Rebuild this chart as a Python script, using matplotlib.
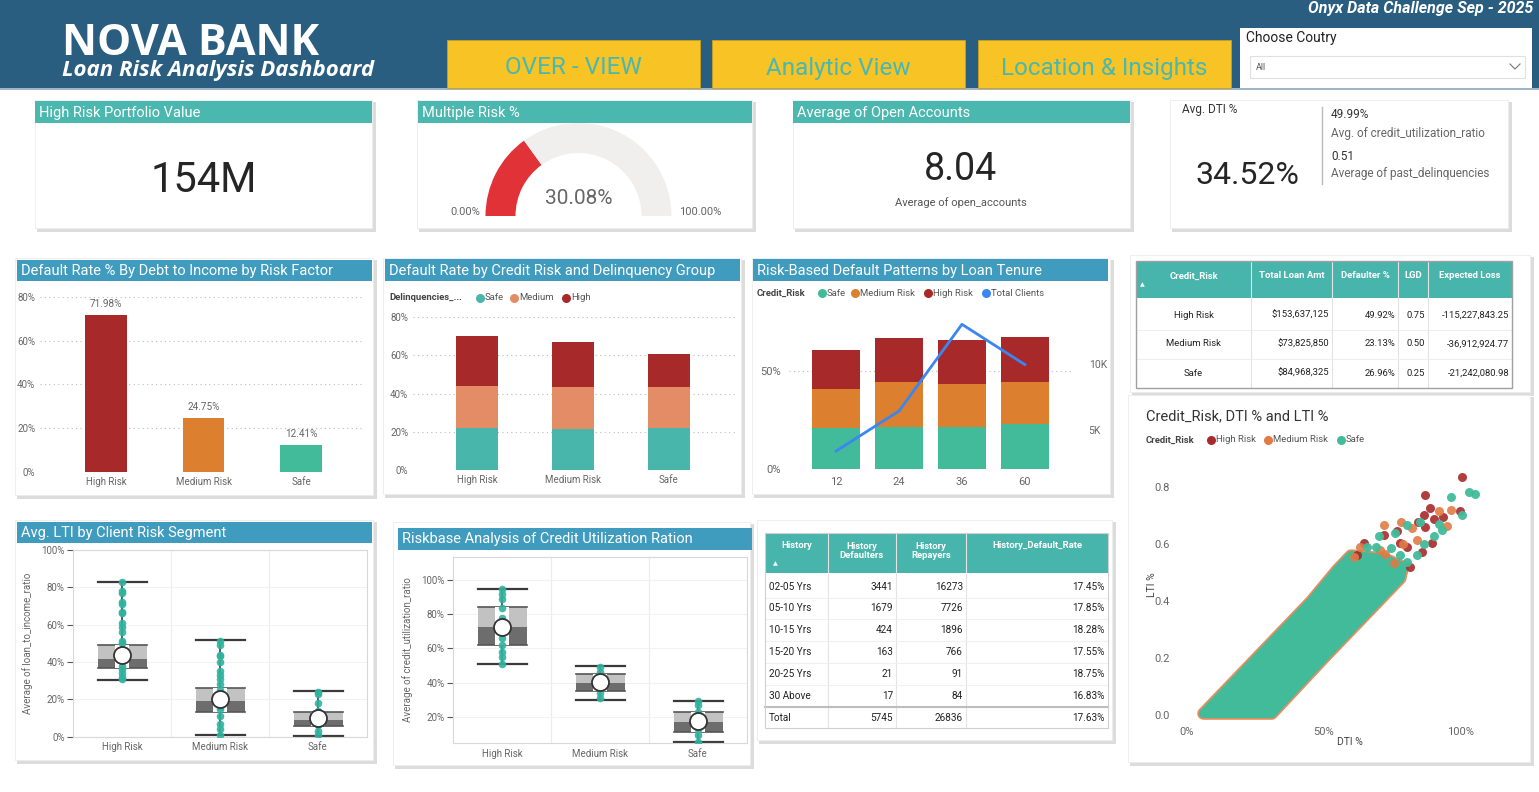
import matplotlib
matplotlib.use("Agg")
import matplotlib.pyplot as plt
from matplotlib.patches import Rectangle, Wedge, Polygon
import numpy as np

plt.rcParams['font.family'] = ['Roboto', 'DejaVu Sans']

W, H = 1539, 792

# ---------------- data ----------------
risk_cats = ["High Risk", "Medium Risk", "Safe"]
dti_default_rate = [71.98, 24.75, 12.41]

delinq_safe = [21.9, 21.4, 21.8]
delinq_medium = [22.1, 22.0, 21.6]
delinq_high = [26.3, 23.6, 17.4]

tenures = ["12", "24", "36", "60"]
tenure_safe = [20.7, 21.6, 21.6, 22.8]
tenure_medium = [19.9, 22.8, 21.9, 21.6]
tenure_high = [19.9, 22.3, 22.1, 22.8]
tenure_clients = [3370, 6415, 13010, 9945]

kpi_portfolio = "154M"
gauge_value = 30.08
kpi_open_accounts = "8.04"
kpi_dti = "34.52%"
kpi_util = "49.99%"
kpi_delinq = "0.51"

# box plots: (whisker low, q1, median, q3, whisker high, mean)
lti_box = [(30.4, 37.0, 41.6, 49.3, 83.1, 43.8),
           (0.9, 13.0, 19.1, 26.3, 51.8, 20.2),
           (0.4, 5.7, 8.9, 13.4, 24.6, 10.2)]
lti_dots = [[83, 78, 77, 72, 71, 67, 66, 61, 59, 56, 51, 50, 47, 45, 41, 38, 36, 34, 32, 31],
            [51, 49, 44, 43, 40, 35, 33, 31, 28, 25, 20, 16, 15, 11, 7, 4, 1],
            [24, 23, 18, 14, 12, 9, 6, 3, 1]]
util_box = [(51.1, 62.1, 72.4, 84.2, 94.9, 72.8),
            (30.0, 35.3, 39.8, 45.2, 49.9, 40.2),
            (5.2, 11.2, 16.9, 22.9, 29.2, 17.5)]
util_dots = [[95, 92, 89, 84, 78, 76, 69, 66, 62, 58, 55, 51],
             [49, 46, 43, 37, 34, 31],
             [29, 27, 23, 18, 13, 9, 5]]

credit_cols = ["Credit_Risk", "Total Loan Amt", "Defaulter %", "LGD", "Expected Loss"]
credit_rows = [["High Risk", "$153,637,125", "49.92%", "0.75", "-115,227,843.25"],
               ["Medium Risk", "$73,825,850", "23.13%", "0.50", "-36,912,924.77"],
               ["Safe", "$84,968,325", "26.96%", "0.25", "-21,242,080.98"]]

hist_cols = ["History", "History\nDefaulters", "History\nRepayers", "History_Default_Rate"]
hist_rows = [["02-05 Yrs", "3441", "16273", "17.45%"],
             ["05-10 Yrs", "1679", "7726", "17.85%"],
             ["10-15 Yrs", "424", "1896", "18.28%"],
             ["15-20 Yrs", "163", "766", "17.55%"],
             ["20-25 Yrs", "21", "91", "18.75%"],
             ["30 Above", "17", "84", "16.83%"]]
hist_total = ["Total", "5745", "26836", "17.63%"]

# scatter: dense band outline (DTI %, LTI) and outlier points
band_dti = [6.0, 31.0, 50, 70, 78, 79, 72, 60, 55, 45.5, 25.5, 6.0]
band_lti = [0.005, 0.005, 0.2, 0.4, 0.48, 0.52, 0.55, 0.56, 0.51, 0.4, 0.2, 0.005]
hi_dti = [100.6, 87.2, 88.8, 100, 93.7, 86.6, 84.4, 72, 76.8, 78, 80.5, 87.2, 89.6, 85.9, 62.2, 64.6, 81.7, 90.5]
hi_lti = [0.835, 0.774, 0.726, 0.717, 0.694, 0.702, 0.679, 0.632, 0.646, 0.603, 0.591, 0.661, 0.603, 0.574, 0.562, 0.603, 0.521, 0.69]
md_dti = [96.6, 92.1, 95.1, 78.3, 72.2, 82.3, 63.4, 72.6, 75.6, 84.1, 61.0, 79.0, 70.5]
md_lti = [0.72, 0.717, 0.664, 0.677, 0.667, 0.656, 0.591, 0.565, 0.533, 0.615, 0.556, 0.60, 0.58]
sf_dti = [103.3, 105.5, 96.6, 100.5, 80.5, 85.1, 92.1, 93.3, 90.5, 70.1, 76.2, 86.6, 84.1, 65.9, 69.0, 74.5, 78.0, 80.5, 58.5]
sf_lti = [0.782, 0.775, 0.764, 0.703, 0.668, 0.679, 0.671, 0.648, 0.629, 0.629, 0.638, 0.601, 0.562, 0.591, 0.59, 0.585, 0.562, 0.539, 0.51]

# ---------------- colours ----------------
C_HEAD = "#2a5e80"
C_YEL = "#f7c325"
C_TEAL_TXT = "#49b8b1"
C_TEAL_BAR = "#4ab8ae"
C_BLUE_BAR = "#3f9cbf"
C_HIGH = "#a8292a"
C_MED = "#dc7f2e"
C_SAFE = "#41bb9a"
C_SAFE2 = "#48b6ab"
C_MED2 = "#e38c65"
GRAY_TXT = "#666666"

fig = plt.figure(figsize=(W / 100, H / 100), dpi=100)
fig.patch.set_facecolor("white")

bg = fig.add_axes([0, 0, 1, 1])
bg.set_xlim(0, W)
bg.set_ylim(H, 0)
bg.axis("off")


def px_axes(x0, y0, x1, y1):
    ax = fig.add_axes([x0 / W, 1 - y1 / H, (x1 - x0) / W, (y1 - y0) / H])
    ax.patch.set_visible(False)
    return ax


def rect(x0, y0, x1, y1, color, ec="none", lw=0, z=1):
    bg.add_patch(Rectangle((x0, y0), x1 - x0, y1 - y0, facecolor=color,
                           edgecolor=ec, linewidth=lw, zorder=z))


def card(x0, y0, x1, y1):
    rect(x0 + 2, y0 + 2, x1 + 4, y1 + 4, "#dcdcdc")
    rect(x0, y0, x1, y1, "white", ec="#ececec", lw=0.6)


def title_bar(x0, y0, x1, y1, text, color, fs=10.5):
    rect(x0, y0, x1, y1, color, z=2)
    bg.text(x0 + 4, (y0 + y1) / 2 + 0.5, text, color="white", fontsize=fs,
            va="center", ha="left", zorder=3)


def legend_row(x, y, title, items):
    bg.text(x, y, title, fontsize=6.8, fontweight="bold", color="#444444",
            va="center", zorder=3)
    for lx, lab, col in items:
        bg.scatter([lx], [y], s=30, color=col, zorder=3)
        bg.text(lx + 5, y, lab, fontsize=6.8, color="#555555", va="center", zorder=3)


# ---------------- header ----------------
rect(0, 0, W, 88, C_HEAD)
rect(0, 88, W, 90, "#9fb3c2")
bg.text(62, 55, "NOVA BANK", color="white", fontsize=31, fontweight="bold",
        va="baseline", ha="left", family=["Open Sans", "DejaVu Sans"])
bg.text(62, 76, "Loan Risk Analysis Dashboard", color="white", fontsize=16,
        fontweight="bold", style="italic", va="baseline", ha="left",
        family=["Open Sans", "DejaVu Sans"])
bg.text(1533, 8, "Onyx Data Challenge Sep - 2025", color="white", fontsize=11.5,
        fontweight="bold", style="italic", va="center", ha="right")
for (bx0, bx1), lab in zip([(447, 700), (712, 965), (978, 1231)],
                           ["OVER - VIEW", "Analytic View", "Location & Insights"]):
    rect(bx0, 40, bx1, 88, C_YEL, ec="#c9a020", lw=0.6)
    bg.text((bx0 + bx1) / 2, 68, lab, color=C_TEAL_TXT, fontsize=17.5,
            va="center", ha="center")
rect(1240, 28, 1532, 88, "white")
bg.text(1246, 38, "Choose Coutry", fontsize=10, color="#222222", va="center")
rect(1250, 56, 1525, 78, "white", ec="#e0e0e0", lw=0.8)
bg.text(1256, 67, "All", fontsize=6.5, color="#555555", va="center")
bg.plot([1510, 1515, 1520], [64, 69, 64], color="#777777", lw=0.8)

# ---------------- KPI cards ----------------
card(35, 100, 372, 228)
title_bar(35, 101, 372, 123, "High Risk Portfolio Value", C_TEAL_BAR, fs=10.5)
bg.text(204, 180, kpi_portfolio, fontsize=30, color="#252525", ha="center", va="center")

card(417, 100, 752, 228)
title_bar(418, 101, 752, 123, "Multiple Risk %", C_TEAL_BAR, fs=10.5)
gcx, gcy, gr = 578.5, 216, 93
ang = 180 + 180 * gauge_value / 100
bg.add_patch(Wedge((gcx, gcy), gr, 180, ang, width=30, facecolor="#e03237", edgecolor="none", zorder=3))
bg.add_patch(Wedge((gcx, gcy), gr, ang, 360, width=30, facecolor="#f0efee", edgecolor="none", zorder=3))
bg.text(gcx, 198, f"{gauge_value:.2f}%", fontsize=15, color="#666666", ha="center", va="center", zorder=4)
bg.text(465, 212, "0.00%", fontsize=8, color="#666666", ha="center", va="center")
bg.text(700, 212, "100.00%", fontsize=8, color="#666666", ha="center", va="center")

card(793, 100, 1130, 228)
title_bar(793, 101, 1130, 123, "Average of Open Accounts", C_TEAL_BAR, fs=10.5)
bg.text(961, 169, kpi_open_accounts, fontsize=27, color="#252525", ha="center", va="center")
bg.text(961, 203, "Average of open_accounts", fontsize=8, color="#555555", ha="center", va="center")

card(1170, 100, 1508, 228)
bg.text(1182, 109, "Avg. DTI %", fontsize=8.5, color="#333333", va="center")
bg.text(1247, 175, kpi_dti, fontsize=23, color="#252525", ha="center", va="center")
bg.plot([1322, 1322], [107, 184], color="#bbbbbb", lw=1)
bg.text(1331, 115, kpi_util, fontsize=8.5, color="#333333", va="center")
bg.text(1331, 133, "Avg. of credit_utilization_ratio", fontsize=8.5, color="#666666", va="center")
bg.text(1331, 156, kpi_delinq, fontsize=8.5, color="#333333", va="center")
bg.text(1331, 173, "Average of past_delinquencies", fontsize=8.5, color="#666666", va="center")

# ---------------- row 2 ----------------
card(15, 258, 373, 495)
title_bar(17, 260, 372, 281, "Default Rate % By Debt to Income by Risk Factor", C_BLUE_BAR)
ax1 = px_axes(40, 297, 365, 472)
x = np.arange(3)
bars = ax1.bar(x, dti_default_rate, width=0.43, color=[C_HIGH, C_MED, C_SAFE], zorder=3)
for xi, v in zip(x, dti_default_rate):
    ax1.text(xi, v + 2.5, f"{v:.2f}%", ha="center", va="bottom", fontsize=7.2, color=GRAY_TXT)
ax1.set_xlim(-0.677, 2.656)
ax1.set_ylim(0, 80)
ax1.set_yticks([0, 20, 40, 60, 80])
ax1.set_yticklabels(["0%", "20%", "40%", "60%", "80%"])
ax1.set_xticks(x)
ax1.set_xticklabels(risk_cats)

card(383, 258, 741, 494)
title_bar(385, 259, 740, 281, "Default Rate by Credit Risk and Delinquency Group", C_BLUE_BAR)
legend_row(389, 298, "Delinquencies_...", [(480, "Safe", C_SAFE2), (514, "Medium", C_MED2), (566, "High", C_HIGH)])
ax2 = px_axes(413, 317, 735, 470)
ax2.bar(x, delinq_safe, width=0.44, color=C_SAFE2, zorder=3)
ax2.bar(x, delinq_medium, width=0.44, bottom=delinq_safe, color=C_MED2, zorder=3)
ax2.bar(x, delinq_high, width=0.44, bottom=np.add(delinq_safe, delinq_medium), color=C_HIGH, zorder=3)
ax2.set_xlim(-0.667, 2.69)
ax2.set_ylim(0, 80)
ax2.set_yticks([0, 20, 40, 60, 80])
ax2.set_yticklabels(["0%", "20%", "40%", "60%", "80%"])
ax2.set_xticks(x)
ax2.set_xticklabels(risk_cats)

card(752, 258, 1110, 494)
title_bar(753, 259, 1108, 281, "Risk-Based Default Patterns by Loan Tenure", C_BLUE_BAR)
legend_row(757, 293, "Credit_Risk", [(822, "Safe", C_SAFE), (855, "Medium Risk", C_MED),
                                    (928, "High Risk", C_HIGH), (986, "Total Clients", "#3a86f2")])
ax3 = px_axes(789, 318, 1072, 469)
xt = np.arange(4)
ax3.bar(xt, tenure_safe, width=0.77, color=C_SAFE, zorder=3)
ax3.bar(xt, tenure_medium, width=0.77, bottom=tenure_safe, color=C_MED, zorder=3)
ax3.bar(xt, tenure_high, width=0.77, bottom=np.add(tenure_safe, tenure_medium), color=C_HIGH, zorder=3)
ax3.set_xlim(-0.75, 3.75)
ax3.set_ylim(0, 77)
ax3.set_yticks([0, 50])
ax3.set_yticklabels(["0%", "50%"])
ax3.set_xticks(xt)
ax3.set_xticklabels(tenures)
ax3r = ax3.twinx()
ax3r.patch.set_visible(False)
ax3r.plot(xt, tenure_clients, color="#3a86f2", lw=2, zorder=5)
ax3r.set_ylim(2000, 13490)
ax3r.set_yticks([5000, 10000])
ax3r.set_yticklabels(["5K", "10K"])
for s in ax3r.spines.values():
    s.set_visible(False)
ax3r.tick_params(length=0, labelsize=7.5, labelcolor=GRAY_TXT, pad=12)

for ax in (ax1, ax2, ax3):
    for s in ax.spines.values():
        s.set_visible(False)
    ax.tick_params(length=0, labelsize=7, labelcolor=GRAY_TXT)
    ax.yaxis.grid(True, linestyle=(0, (1, 3)), color="#bbbbbb", lw=0.8)
    ax.set_axisbelow(True)
ax3.tick_params(labelsize=8, pad=6)

# credit risk table
card(1130, 255, 1530, 392)
cb = [1136, 1251, 1332, 1398, 1428, 1512]
rect(cb[0], 261, cb[-1], 298, "#48b5ad", z=2)
for i, name in enumerate(credit_cols):
    bg.text((cb[i] + cb[i + 1]) / 2, 276, name, color="white", fontsize=6.8,
            fontweight="bold", ha="center", va="center", zorder=3)
    if i > 0:
        bg.plot([cb[i], cb[i]], [261, 388], color="#e2e2e2", lw=0.8, zorder=3)
bg.text(1142, 285, "\u25b2", color="white", fontsize=4.5, ha="center", va="center", zorder=3)
row_y = [315, 344, 373]
for ry, row in zip(row_y, credit_rows):
    for i, val in enumerate(row):
        if i == 0:
            bg.text((cb[0] + cb[1]) / 2, ry, val, fontsize=6.8, color="#222222", ha="center", va="center", zorder=3)
        else:
            bg.text(cb[i + 1] - 3, ry, val, fontsize=6.8, color="#222222", ha="right", va="center", zorder=3)
for ly in [329.5, 358.5]:
    bg.plot([cb[0], cb[-1]], [ly, ly], color="#eeeeee", lw=0.8, zorder=3)
bg.add_patch(Rectangle((cb[0], 261), cb[-1] - cb[0], 127, facecolor="none",
                       edgecolor="#a0a0a0", lw=1, zorder=4))

# scatter panel
card(1128, 395, 1530, 762)
bg.text(1146, 416, "Credit_Risk, DTI % and LTI %", fontsize=10.5, color="#333333", va="center")
legend_row(1146, 440, "Credit_Risk", [(1211, "High Risk", C_HIGH), (1268, "Medium Risk", "#e07b45"),
                                     (1341, "Safe", C_SAFE)])
ax5 = px_axes(1175, 465, 1500, 722)
band = np.column_stack([band_dti, band_lti])
ax5.add_patch(Polygon(band, closed=True, facecolor="#e07b45", edgecolor="#e07b45",
                      lw=9, joinstyle="round", alpha=0.85, zorder=2))
ax5.add_patch(Polygon(band, closed=True, facecolor=C_SAFE, edgecolor=C_SAFE,
                      lw=6.5, joinstyle="round", zorder=2))
ax5.scatter(hi_dti, hi_lti, s=42, color=C_HIGH, alpha=0.9, zorder=3, lw=0)
ax5.scatter(md_dti, md_lti, s=42, color="#e07b45", alpha=0.9, zorder=3, lw=0)
ax5.scatter(sf_dti, sf_lti, s=42, color=C_SAFE, alpha=0.95, zorder=4, lw=0)
ax5.set_xlim(-4.4, 114.5)
ax5.set_ylim(-0.0246, 0.878)
ax5.set_xticks([0, 50, 100])
ax5.set_xticklabels(["0%", "50%", "100%"])
ax5.set_yticks([0, 0.2, 0.4, 0.6, 0.8])
ax5.set_yticklabels(["0.0", "0.2", "0.4", "0.6", "0.8"])
for s in ax5.spines.values():
    s.set_visible(False)
ax5.tick_params(length=0, labelsize=8, labelcolor=GRAY_TXT)
bg.text(1350, 742, "DTI %", fontsize=7.5, color="#444444", ha="center", va="center")
bg.text(1152, 585, "LTI %", fontsize=7.5, color="#444444", ha="center", va="center", rotation=90)

# ---------------- row 3 ----------------


def box_panel(ax, boxes, dots, ylim, yticks, ylabel):
    for i, (lo, q1, med, q3, hi, mean) in enumerate(boxes):
        w = 0.5
        ax.plot([i, i], [lo, hi], color="#3a3a3a", lw=1.2, zorder=2)
        ax.plot([i - w / 2, i + w / 2], [hi, hi], color="#3a3a3a", lw=1.6, zorder=2)
        ax.plot([i - w / 2, i + w / 2], [lo, lo], color="#3a3a3a", lw=1.6, zorder=2)
        ax.add_patch(Rectangle((i - w / 2, med), w, q3 - med, facecolor="#c2c2c2", edgecolor="none", zorder=3))
        ax.add_patch(Rectangle((i - w / 2, q1), w, med - q1, facecolor="#6d6d6d", edgecolor="none", zorder=3))
        ax.plot([i - w / 2, i + w / 2], [q3, q3], color="#555555", lw=1.2, zorder=3)
        ax.plot([i - w / 2, i + w / 2], [q1, q1], color="#555555", lw=1.2, zorder=3)
        ax.add_patch(Rectangle((i - 0.07, q1), 0.14, q3 - q1, facecolor="white", edgecolor="none", zorder=4))
        ax.scatter([i] * len(dots[i]), dots[i], s=30, color="#2fb39f", alpha=0.9, zorder=5, lw=0)
        ax.scatter([i], [mean], s=150, facecolor="white", edgecolor="#333333", lw=1.3, zorder=6)
    ax.set_xlim(-0.5, 2.5)
    ax.set_ylim(*ylim)
    ax.set_xticks(range(3))
    ax.set_xticklabels(risk_cats)
    ax.set_yticks(yticks)
    ax.set_yticklabels([f"{t}%" for t in yticks])
    for xb in [0.5, 1.5]:
        ax.axvline(xb, color="#ececec", lw=0.8, zorder=0)
    ax.yaxis.grid(True, color="#f2f2f2", lw=0.8)
    ax.set_axisbelow(True)
    for s in ax.spines.values():
        s.set_color("#d8d8d8")
    ax.tick_params(axis="x", length=0, labelsize=7, labelcolor=GRAY_TXT, pad=4)
    ax.tick_params(axis="y", length=4, color="#555555", labelsize=7, labelcolor=GRAY_TXT, pad=2)
    ax.set_ylabel(ylabel, fontsize=7, color=GRAY_TXT, labelpad=6)


card(15, 520, 373, 760)
title_bar(17, 522, 372, 543, "Avg. LTI by Client Risk Segment", C_BLUE_BAR, fs=10.5)
ax6 = px_axes(73, 550, 367, 736.7)
box_panel(ax6, lti_box, lti_dots, (0, 100), [0, 20, 40, 60, 80, 100], "Average of loan_to_income_ratio")

card(393, 522, 750, 765)
title_bar(398, 528, 752, 550, "Riskbase Analysis of Credit Utilization Ration", C_BLUE_BAR, fs=10.5)
ax7 = px_axes(453, 556.7, 747, 743.3)
box_panel(ax7, util_box, util_dots, (4.4, 113.8), [20, 40, 60, 80, 100], "Average of credit_utilization_ratio")

# history table
card(757, 520, 1112, 740)
hb = [765, 828, 896, 966, 1108]
rect(hb[0], 533, hb[-1], 573, "#48b5ad", z=2)
for i, name in enumerate(hist_cols):
    bg.text((hb[i] + hb[i + 1]) / 2, 545 if "\n" not in name else 551, name, color="white",
            fontsize=6.8, fontweight="bold", ha="center", va="center", zorder=3, linespacing=1.0)
    if i > 0:
        bg.plot([hb[i], hb[i]], [533, 728], color="#e4e4e4", lw=0.8, zorder=3)
bg.text(775, 564, "\u25b2", color="white", fontsize=4.5, ha="center", va="center", zorder=3)
hrow_y = [586.7, 608.3, 629.7, 651.7, 673.7, 695.7]
for ry, row in zip(hrow_y, hist_rows):
    for i, val in enumerate(row):
        if i == 0:
            bg.text(hb[0] + 4, ry, val, fontsize=7.2, color="#222222", ha="left", va="center", zorder=3)
        else:
            bg.text(hb[i + 1] - 3, ry, val, fontsize=7.2, color="#222222", ha="right", va="center", zorder=3)
    bg.plot([hb[0], hb[-1]], [ry + 11, ry + 11], color="#f0f0f0", lw=0.8, zorder=3)
bg.plot([hb[0], hb[-1]], [706.7, 706.7], color="#bdbdbd", lw=1.5, zorder=4)
for i, val in enumerate(hist_total):
    if i == 0:
        bg.text(hb[0] + 4, 718.3, val, fontsize=7.2, color="#222222", ha="left", va="center", zorder=3)
    else:
        bg.text(hb[i + 1] - 3, 718.3, val, fontsize=7.2, color="#222222", ha="right", va="center", zorder=3)
bg.add_patch(Rectangle((hb[0], 533), hb[-1] - hb[0], 195, facecolor="none",
                       edgecolor="#d0d0d0", lw=0.8, zorder=4))

fig.savefig("out.png", dpi=100)
